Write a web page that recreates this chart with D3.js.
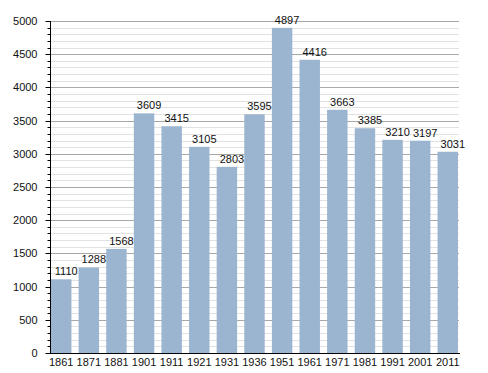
<!DOCTYPE html>
<html>
  <head>
    <meta charset="utf-8">
    <script src="https://d3js.org/d3.v7.min.js"></script>
    <style>
      body { margin: 0; background: white; }
      text { font-family: "Liberation Sans", Arial, sans-serif; }
    </style>
  </head>
  <body>
    <div id="chart"></div>
    <script>
      // data
      const years = ['1861', '1871', '1881', '1901', '1911', '1921', '1931', '1936',
                     '1951', '1961', '1971', '1981', '1991', '2001', '2011']
      const population = [1110, 1288, 1568, 3609, 3415, 3105, 2803, 3595,
                          4897, 4416, 3663, 3385, 3210, 3197, 3031]
      const yTicks = [0, 500, 1000, 1500, 2000, 2500, 3000, 3500, 4000, 4500, 5000]

      const width = 488, height = 373
      const plot = {left: 50, right: 459, top: 21, bottom: 353}

      const svg = d3.select('#chart').append('svg')
        .attr('width', width)
        .attr('height', height)

      const x = d3.scaleBand()
        .domain(years)
        .range([plot.left + 1, plot.right - 1])
        .paddingInner(0.26)
        .paddingOuter(0)

      const y = d3.scaleLinear()
        .domain([0, 5000])
        .range([plot.bottom, plot.top])

      // minor grid every 100
      const minor = d3.range(100, 5000, 100).filter(v => v % 500 != 0)
      svg.append('g').selectAll('line')
        .data(minor)
        .join('line')
          .attr('x1', plot.left).attr('x2', plot.right)
          .attr('y1', d => Math.round(y(d)) + 0.5).attr('y2', d => Math.round(y(d)) + 0.5)
          .attr('stroke', '#e2e2e2')

      // major grid
      svg.append('g').selectAll('line')
        .data(yTicks.slice(1))
        .join('line')
          .attr('x1', plot.left).attr('x2', plot.right)
          .attr('y1', d => Math.round(y(d)) + 0.5).attr('y2', d => Math.round(y(d)) + 0.5)
          .attr('stroke', '#a8a8a8')

      // bars
      svg.append('g').selectAll('rect')
        .data(population)
        .join('rect')
          .attr('x', (d, i) => x(years[i]))
          .attr('y', d => y(d))
          .attr('width', x.bandwidth())
          .attr('height', d => y(0) - y(d))
          .attr('fill', '#9bb4cf')

      // value labels
      svg.append('g').selectAll('text')
        .data(population)
        .join('text')
          .attr('x', (d, i) => x(years[i]) + x.bandwidth() / 2 + 5)
          .attr('y', d => y(d) - 4)
          .attr('text-anchor', 'middle')
          .attr('font-size', 11)
          .attr('fill', '#111')
          .text(d => d)

      // y axis
      const yAxis = svg.append('g')
        .attr('transform', `translate(${plot.left + 0.5},0)`)
      yAxis.append('line')
        .attr('y1', plot.top).attr('y2', plot.bottom)
        .attr('stroke', 'black')
      yAxis.selectAll('line.minor')
        .data(d3.range(0, 5001, 100))
        .join('line')
          .attr('class', 'minor')
          .attr('x1', d => d % 500 == 0 ? -5 : -3).attr('x2', 0)
          .attr('y1', d => Math.round(y(d)) + 0.5).attr('y2', d => Math.round(y(d)) + 0.5)
          .attr('stroke', 'black')
      yAxis.selectAll('text')
        .data(yTicks)
        .join('text')
          .attr('x', -13)
          .attr('y', d => y(d) + 4)
          .attr('text-anchor', 'end')
          .attr('font-size', 11)
          .attr('fill', '#111')
          .text(d => d)

      // x axis
      svg.append('line')
        .attr('x1', plot.left).attr('x2', plot.right + 1)
        .attr('y1', plot.bottom + 0.5).attr('y2', plot.bottom + 0.5)
        .attr('stroke', 'black')
      svg.append('g').selectAll('text')
        .data(years)
        .join('text')
          .attr('x', d => x(d) + x.bandwidth() / 2)
          .attr('y', plot.bottom + 13)
          .attr('text-anchor', 'middle')
          .attr('font-size', 11)
          .attr('fill', '#111')
          .text(d => d)
    </script>
  </body>
</html>
